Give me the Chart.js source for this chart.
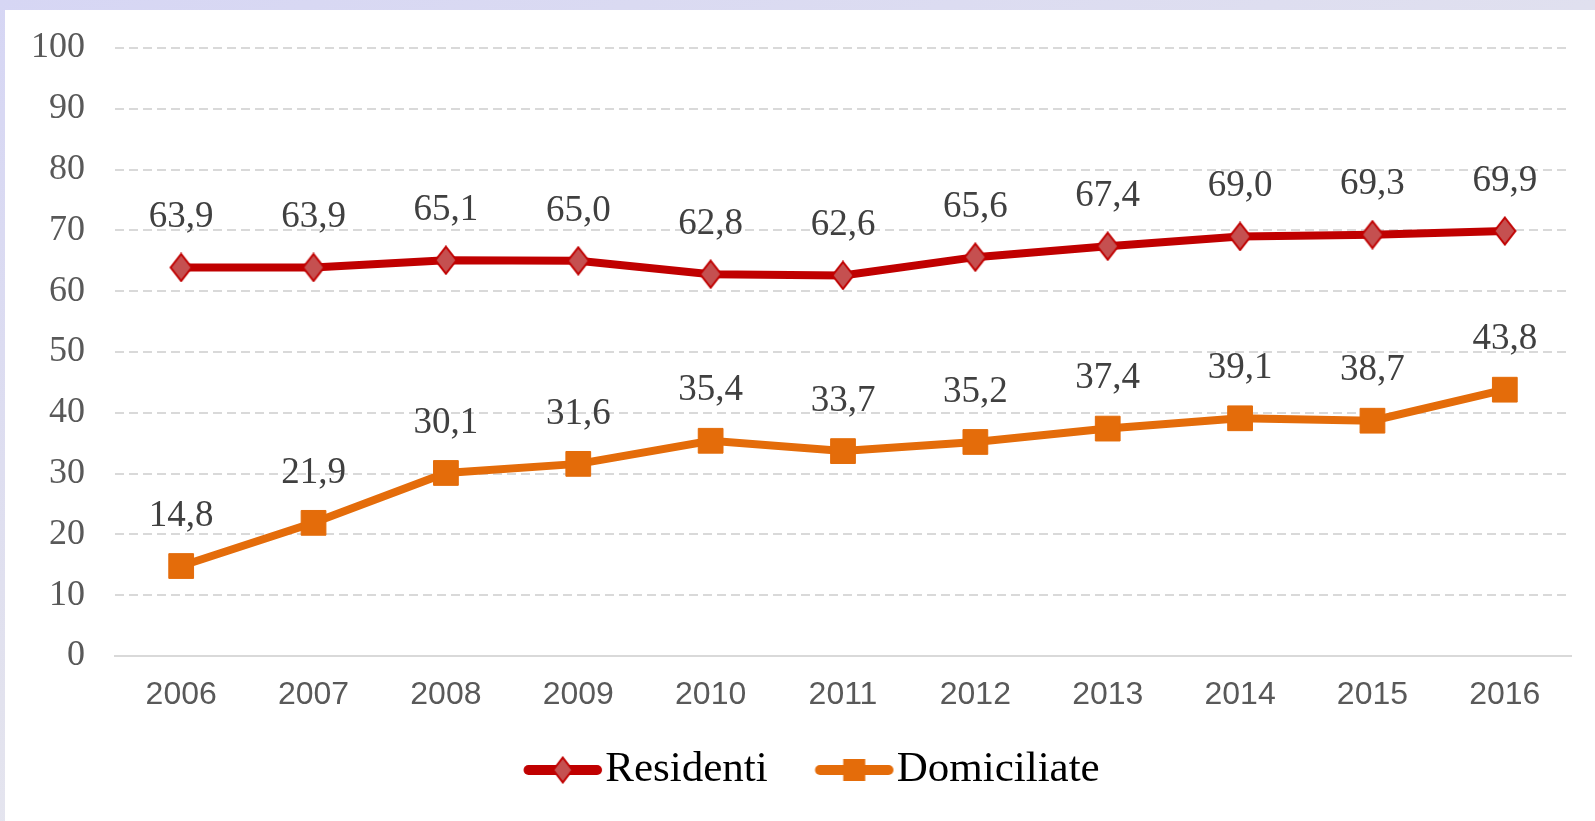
<!DOCTYPE html>
<html>
<head>
<meta charset="utf-8">
<script src="https://cdn.jsdelivr.net/npm/chart.js@4/dist/chart.umd.min.js"></script>
<style>
  html, body {
    margin: 0;
    padding: 0;
    width: 1595px;
    height: 821px;
    overflow: hidden;
    background: linear-gradient(160deg, #d6d6f4 0%, #e2e2ee 50%, #f0f0f2 100%);
  }
  #panel {
    position: absolute;
    left: 5px;
    top: 10px;
    width: 1590px;
    height: 811px;
    background: #ffffff;
  }
</style>
</head>
<body>
<div id="panel"><canvas id="chart" width="1590" height="811"></canvas></div>
<script>
// dati
const years = ['2006', '2007', '2008', '2009', '2010', '2011', '2012', '2013', '2014', '2015', '2016'];
const residenti = [63.9, 63.9, 65.1, 65.0, 62.8, 62.6, 65.6, 67.4, 69.0, 69.3, 69.9];
const domiciliate = [14.8, 21.9, 30.1, 31.6, 35.4, 33.7, 35.2, 37.4, 39.1, 38.7, 43.8];
const seriesNames = ['Residenti', 'Domiciliate'];

const RED = '#c00000';
const RED_FILL = '#c55050';
const ORANGE = '#e46c0a';
const SERIF = '"Liberation Serif", "Times New Roman", serif';
const SANS = '"Liberation Sans", Arial, sans-serif';

// rombo un po' allungato, come nell'originale
function diamond(w, h) {
    const c = document.createElement('canvas');
    c.width = w;
    c.height = h;
    const g = c.getContext('2d');
    g.fillStyle = RED_FILL;
    g.strokeStyle = RED;
    g.lineWidth = 2;
    g.beginPath();
    g.moveTo(w / 2, 1.5);
    g.lineTo(w - 1.5, h / 2);
    g.lineTo(w / 2, h - 1.5);
    g.lineTo(1.5, h / 2);
    g.closePath();
    g.fill();
    g.stroke();
    return c;
}

// icona legenda: linea con marcatore, spostata a destra nell'immagine
function legendIcon(color, shape) {
    const c = document.createElement('canvas');
    c.width = 146;
    c.height = 30;
    const g = c.getContext('2d');
    const x0 = 71.5, x1 = 140, mid = (x0 + x1) / 2;
    g.strokeStyle = color;
    g.lineWidth = 10;
    g.lineCap = 'round';
    g.beginPath();
    g.moveTo(x0, 15);
    g.lineTo(x1, 15);
    g.stroke();
    if (shape === 'diamond') {
        g.drawImage(diamond(22, 28), mid - 11, 1);
    } else {
        g.fillStyle = color;
        g.fillRect(mid - 11, 4, 22, 22);
    }
    return c;
}

// etichette dei valori sopra i punti
const valueLabels = {
    id: 'valueLabels',
    afterDatasetsDraw(chart) {
        const ctx = chart.ctx;
        ctx.save();
        ctx.font = '37px ' + SERIF;
        ctx.fillStyle = '#404040';
        ctx.textAlign = 'center';
        ctx.textBaseline = 'middle';
        chart.data.datasets.forEach((ds, i) => {
            chart.getDatasetMeta(i).data.forEach((pt, j) => {
                const txt = ds.data[j].toFixed(1).replace('.', ',');
                ctx.fillText(txt, pt.x, pt.y - 50);
            });
        });
        ctx.restore();
    }
};

const icons = [legendIcon(RED, 'diamond'), legendIcon(ORANGE, 'square')];
const marker = diamond(24, 30);

new Chart(document.getElementById('chart'), {
    type: 'line',
    data: {
        labels: years,
        datasets: [
            {
                label: seriesNames[0],
                data: residenti,
                borderColor: RED,
                borderWidth: 8,
                backgroundColor: RED_FILL,
                pointStyle: marker,
                pointRadius: 14,
                tension: 0
            },
            {
                label: seriesNames[1],
                data: domiciliate,
                borderColor: ORANGE,
                borderWidth: 8,
                backgroundColor: ORANGE,
                pointStyle: 'rect',
                pointRadius: 17.5,
                pointBorderWidth: 1,
                pointBorderColor: ORANGE,
                pointBackgroundColor: ORANGE,
                tension: 0
            }
        ]
    },
    options: {
        responsive: false,
        animation: false,
        layout: {
            padding: { left: 0, right: 24, top: 38, bottom: 19.5 }
        },
        plugins: {
            tooltip: { enabled: false },
            legend: {
                position: 'bottom',
                labels: {
                    usePointStyle: true,
                    pointStyleWidth: 107.5,
                    padding: 0,
                    color: '#595959',
                    font: { family: SERIF, size: 43 },
                    generateLabels: (chart) => chart.data.datasets.map((ds, i) => ({
                        text: ds.label,
                        pointStyle: icons[i],
                        fillStyle: ds.borderColor,
                        strokeStyle: ds.borderColor,
                        lineWidth: 0,
                        hidden: false,
                        datasetIndex: i
                    }))
                }
            }
        },
        scales: {
            x: {
                offset: true,
                afterFit: (scale) => { scale.height = 92.5; },
                grid: { display: false, drawTicks: false },
                border: { display: true, color: '#d9d9d9', width: 2 },
                ticks: {
                    color: '#595959',
                    padding: 20,
                    font: { family: SANS, size: 32 }
                }
            },
            y: {
                min: 0,
                max: 100,
                afterFit: (scale) => { scale.width = 110; },
                grid: {
                    color: '#d9d9d9',
                    lineWidth: 2,
                    drawTicks: false
                },
                border: { display: false, dash: [9, 5] },
                ticks: {
                    stepSize: 10,
                    color: '#595959',
                    padding: 30,
                    font: { family: SERIF, size: 36, lineHeight: 0.4 }
                }
            }
        }
    },
    plugins: [valueLabels]
});
</script>
</body>
</html>
